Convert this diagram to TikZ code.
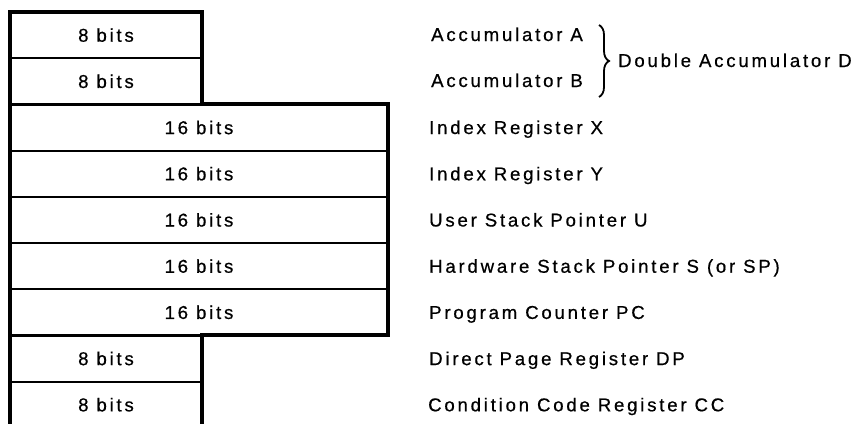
\documentclass[tikz,border=0pt]{standalone}
\usepackage{fontspec}
\setmainfont{Liberation Sans}[LetterSpace=15, FakeBold=0.6]
\usetikzlibrary{positioning,decorations.pathreplacing}

\newcommand{\regfont}{\fontsize{18.6}{22}\selectfont}
\tikzset{
  reg/.style={draw, line width=2.2pt, minimum height=46.2pt, inner sep=0pt, outer sep=0pt, font=\regfont},
  reg8/.style={reg, minimum width=192pt},
  reg16/.style={reg, minimum width=378pt},
  lbl/.style={anchor=base west, inner sep=0pt, font=\regfont},
}

\begin{document}
\begin{tikzpicture}[x=1pt, y=-1pt]
            \useasboundingbox (0,0) rectangle (858,423);
            \node[reg8, anchor=north west] (acca) at (10,12) {8 bits};
            \node[reg8, below right=0pt and 0pt of acca.south west] (accb) {8 bits};
            \node[reg16, below right=0pt and 0pt of accb.south west] (ix) {16 bits};
            \node[reg16, below right=0pt and 0pt of ix.south west] (iy) {16 bits};
            \node[reg16, below right=0pt and 0pt of iy.south west] (usp) {16 bits};
            \node[reg16, below right=0pt and 0pt of usp.south west] (hsp) {16 bits};
            \node[reg16, below right=0pt and 0pt of hsp.south west] (pc) {16 bits};
            \node[reg8, below right=0pt and 0pt of pc.south west] (dp) {8 bits};
            \node[reg8, below right=0pt and 0pt of dp.south west] (cc) {8 bits};
            \draw[line width=4pt, line join=miter] (cc.south east) -- (dp.north east) -- (pc.south east) -- (ix.north east)
                -- (accb.south east) -- (acca.north east) -- (acca.north west) -- (cc.south west);
            \node[lbl] (lacca) at (431,41) {Accumulator A};
            \node[lbl] (laccb) at (431,87) {Accumulator B};
            \node[lbl] (lix) at (429,134) {Index Register X};
            \node[lbl] (liy) at (429,180.3) {Index Register Y};
            \node[lbl] (lusp) at (429,226.5) {User Stack Pointer U};
            \node[lbl] (lhsp) at (429,272.7) {Hardware Stack Pointer S (or SP)};
            \node[lbl] (lpc) at (429,318.9) {Program Counter PC};
            \node[lbl] (ldp) at (429,365.1) {Direct Page Register DP};
            \node[lbl] (lcc) at (428,411.3) {Condition Code Register CC};
            \coordinate (brtop) at (599,25);
            \coordinate (brbot) at (599,97);
            \draw[line width=1.8pt, decorate, decoration={brace, amplitude=10pt}] (brtop) -- (brbot);
            \node[lbl] (ldd) at (618,67) {Double Accumulator D};
        \end{tikzpicture}
\end{document}
